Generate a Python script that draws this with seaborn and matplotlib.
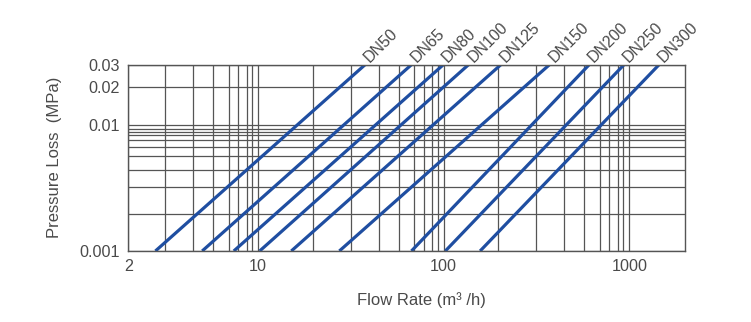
import numpy as np
import pandas as pd
import matplotlib
matplotlib.use("Agg")
import matplotlib.pyplot as plt
from matplotlib.ticker import FixedLocator, NullFormatter, FixedFormatter
import seaborn as sns

# Valve sizes and the flow range each curve covers between the two loss limits
sizes = ["DN50", "DN65", "DN80", "DN100", "DN125", "DN150", "DN200", "DN250", "DN300"]
flow_at_min_loss = [2.8, 5.0, 7.4, 10.2, 15.1, 27.4, 67.0, 102.0, 157.0]   # m³/h at 0.001 MPa
flow_at_max_loss = [37.7, 67.0, 99.5, 136.0, 203.0, 371.0, 607.0, 935.0, 1444.0]  # m³/h at 0.03 MPa
loss_limits = [0.001, 0.03]  # MPa

x_tick_values = [2, 10, 100, 1000]
x_tick_labels = ["2", "10", "100", "1000"]
y_tick_values = [0.001, 0.01, 0.02, 0.03]
y_tick_labels = ["0.001", "0.01", "0.02", "0.03"]

# Grid subdivisions used within each decade of the chart
x_grid_steps = [1.97, 3.15, 4.47, 5.72, 6.93, 7.8, 8.69, 9.29]
y_grid_steps = [1.95, 3.2, 4.39, 5.67, 6.72, 7.59, 8.32, 8.74, 9.23]

rows = []
for name, q0, q1 in zip(sizes, flow_at_min_loss, flow_at_max_loss):
    rows.append({"size": name, "flow": q0, "loss": loss_limits[0]})
    rows.append({"size": name, "flow": q1, "loss": loss_limits[1]})
df = pd.DataFrame(rows)

sns.set_theme(style="white")
plt.rcParams["font.family"] = ["Liberation Sans", "DejaVu Sans"]

grid_color = "#555555"
text_color = "#4a4a4a"
line_color = "#1f4ea1"

fig = plt.figure(figsize=(7.51, 3.22), dpi=100)
ax = fig.add_axes([128.3 / 751, 1 - 251 / 322, (685.3 - 128.3) / 751, (251 - 64.7) / 322])

sns.lineplot(data=df, x="flow", y="loss", hue="size", palette=[line_color] * len(sizes),
             legend=False, sort=False, estimator=None, linewidth=2.3, ax=ax,
             solid_capstyle="butt")

ax.set_xscale("log")
ax.set_yscale("log")
ax.set_xlim(2, 2000)
ax.set_ylim(0.001, 0.03)

# grid lines
x_minor = [s * d for d in (1, 10, 100) for s in x_grid_steps if 2 < s * d < 2000]
y_minor = [s * 0.001 for s in y_grid_steps]
ax.xaxis.set_major_locator(FixedLocator(x_tick_values))
ax.xaxis.set_major_formatter(FixedFormatter(x_tick_labels))
ax.yaxis.set_major_locator(FixedLocator(y_tick_values))
ax.yaxis.set_major_formatter(FixedFormatter(y_tick_labels))
ax.xaxis.set_minor_locator(FixedLocator(x_minor))
ax.yaxis.set_minor_locator(FixedLocator(y_minor))
ax.xaxis.set_minor_formatter(NullFormatter())
ax.yaxis.set_minor_formatter(NullFormatter())
ax.grid(True, which="both", color=grid_color, linewidth=0.9)
ax.set_axisbelow(True)

ax.tick_params(which="both", length=0, labelsize=11.6, colors=text_color)
ax.tick_params(axis="x", pad=5.5)
ax.tick_params(axis="y", pad=6)

for sp in ax.spines.values():
    sp.set_color(grid_color)
    sp.set_linewidth(1.0)
    sp.set_visible(True)

ax.set_xlabel("Flow Rate (m³ /h)", fontsize=12, color=text_color)
ax.set_ylabel("Pressure Loss  (MPa)", fontsize=12, color=text_color)
ax.xaxis.label.set_va("center")
ax.yaxis.label.set_va("center")
ax.xaxis.set_label_coords(0.5255, -0.263)
ax.yaxis.set_label_coords(-0.1316, 0.505)

# size labels at the upper end of each curve
for name, q1 in zip(sizes, flow_at_max_loss):
    ax.annotate(name, xy=(q1, loss_limits[1]), xytext=(3.5, 1), textcoords="offset points",
                rotation=45, rotation_mode="anchor", ha="left", va="baseline",
                fontsize=11.5, color=text_color, annotation_clip=False)

fig.savefig("out.png", dpi=100, facecolor="white")
